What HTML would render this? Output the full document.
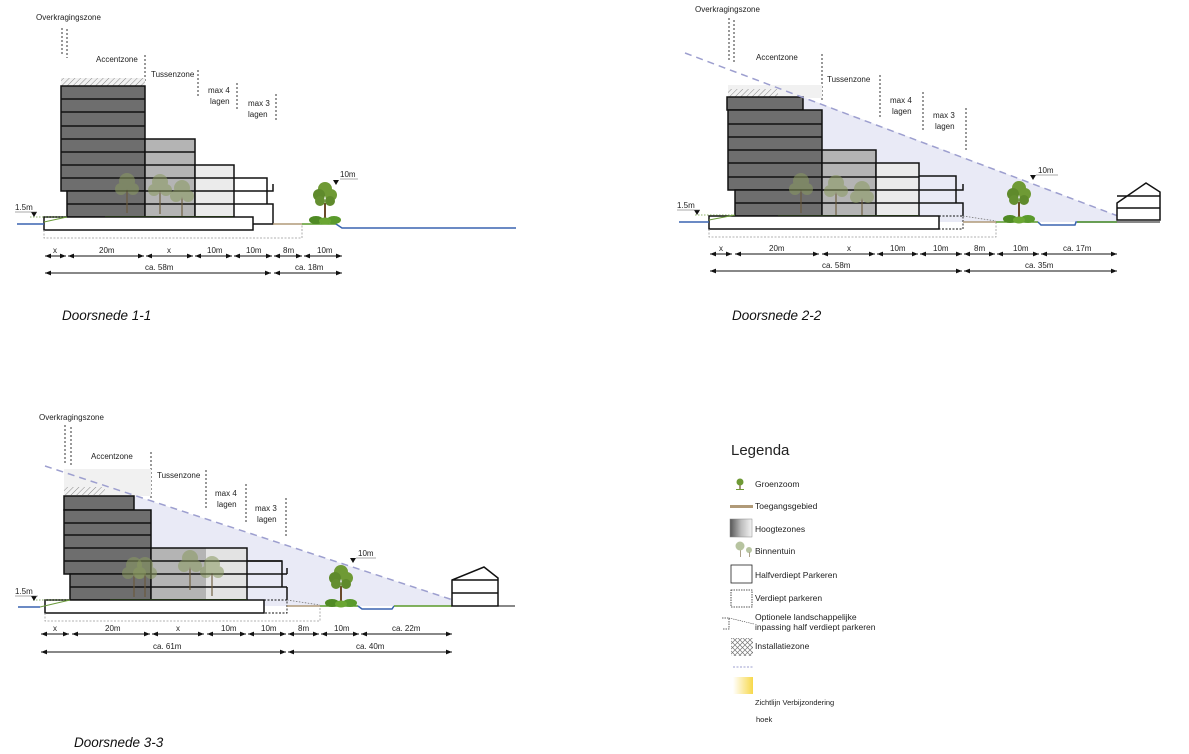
<!DOCTYPE html>
<html><head><meta charset="utf-8"><style>
html,body{margin:0;padding:0;background:#fff;}
svg{display:block;}
text{font-family:"Liberation Sans","DejaVu Sans",sans-serif;font-size:8px;fill:#222;}
.it{font-style:italic;font-size:13.5px;fill:#111;}
.lg{font-size:8.5px;}
</style></head><body>
<svg width="1189" height="754" viewBox="0 0 1189 754" xmlns="http://www.w3.org/2000/svg">
<defs>
<pattern id="hatch" width="4" height="4" patternUnits="userSpaceOnUse" patternTransform="rotate(45)">
<rect width="4" height="4" fill="#f2f2f2"/><line x1="0" y1="0" x2="0" y2="4" stroke="#888" stroke-width="1"/></pattern>
<pattern id="cross" width="5" height="5" patternUnits="userSpaceOnUse">
<rect width="5" height="5" fill="#fff"/><path d="M0 0L5 5M5 0L0 5" stroke="#777" stroke-width="0.7"/></pattern>
<marker id="ar" viewBox="0 0 10 10" refX="10" refY="5" markerWidth="6" markerHeight="6" orient="auto-start-reverse"><path d="M0 1L10 5L0 9z" fill="#111"/></marker>
<linearGradient id="hz" x1="0" x2="1"><stop offset="0" stop-color="#555"/><stop offset="0.5" stop-color="#bbb"/><stop offset="1" stop-color="#f4f4f4"/></linearGradient>
<linearGradient id="yel" x1="0" x2="1"><stop offset="0" stop-color="#fff"/><stop offset="1" stop-color="#f7d84a"/></linearGradient>
<g id="tree"><rect x="-1" y="-16" width="2" height="18" fill="#6b4a2a"/><circle cx="0" cy="-30" r="7" fill="#6f9a35"/><circle cx="-6" cy="-24" r="6" fill="#5f8a2c"/><circle cx="6" cy="-24" r="6" fill="#6f9a35"/><circle cx="-5" cy="-18" r="5" fill="#648f30"/><circle cx="5" cy="-18" r="5" fill="#5f8a2c"/><ellipse cx="-9" cy="1" rx="7" ry="4" fill="#4f8a24"/><ellipse cx="9" cy="1" rx="7" ry="4" fill="#5a9a2c"/><ellipse cx="0" cy="2" rx="6" ry="3.5" fill="#6aa632"/></g>
<g id="btree" opacity="0.55"><rect x="-1" y="-12" width="2" height="26" fill="#6b5a3a"/><circle cx="0" cy="-18" r="8" fill="#8a9a60"/><circle cx="-6" cy="-10" r="6" fill="#8a9a60"/><circle cx="6" cy="-10" r="6" fill="#8a9a60"/></g>
</defs>

<!-- ============ SECTION 1 ============ -->
<g stroke-linecap="butt">
<text x="36" y="20">Overkragingszone</text>
<g stroke="#333" stroke-width="1" stroke-dasharray="2,2"><line x1="62" y1="28" x2="62" y2="55"/><line x1="67" y1="29" x2="67" y2="58"/><line x1="145" y1="55" x2="145" y2="82"/><line x1="198" y1="70" x2="198" y2="98"/><line x1="237" y1="83" x2="237" y2="110"/><line x1="276" y1="94" x2="276" y2="122"/></g>
<text x="96" y="62">Accentzone</text>
<text x="151" y="77">Tussenzone</text>
<text x="208" y="93">max 4</text><text x="210" y="104">lagen</text>
<text x="248" y="106">max 3</text><text x="248" y="117">lagen</text>
<rect x="61" y="78" width="84" height="8" fill="url(#hatch)"/>
<rect x="61" y="86" width="84" height="105" fill="#6e6e6e" stroke="#111" stroke-width="1.5"/>
<rect x="67" y="191" width="78" height="26" fill="#6e6e6e" stroke="#111" stroke-width="1.5"/>
<g stroke="#111" stroke-width="1.5"><line x1="61" y1="99" x2="145" y2="99"/><line x1="61" y1="112" x2="145" y2="112"/><line x1="61" y1="126" x2="145" y2="126"/><line x1="61" y1="139" x2="145" y2="139"/><line x1="61" y1="152" x2="145" y2="152"/><line x1="61" y1="165" x2="145" y2="165"/><line x1="61" y1="178" x2="145" y2="178"/><line x1="67" y1="204" x2="145" y2="204"/></g>
<rect x="145" y="139" width="50" height="78" fill="#b4b4b4" stroke="#111" stroke-width="1.5"/>
<g stroke="#111" stroke-width="1.5"><line x1="145" y1="152" x2="195" y2="152"/><line x1="145" y1="165" x2="195" y2="165"/><line x1="145" y1="178" x2="195" y2="178"/><line x1="145" y1="191" x2="195" y2="191"/><line x1="145" y1="204" x2="195" y2="204"/></g>
<rect x="195" y="165" width="39" height="52" fill="#ebebeb" stroke="#111" stroke-width="1.5"/>
<g stroke="#111" stroke-width="1.5" fill="none"><line x1="195" y1="178" x2="234" y2="178"/><line x1="195" y1="191" x2="234" y2="191"/><line x1="195" y1="204" x2="234" y2="204"/>
<polyline points="234,178 267,178 267,204"/><polyline points="234,191 273,191 273,184"/><polyline points="234,204 273,204 273,224 253,224"/></g>
<use href="#btree" x="127" y="199"/><use href="#btree" x="160" y="200"/><use href="#btree" x="182" y="206"/>
<line x1="105" y1="217" x2="233" y2="217" stroke="#5a9a2a" stroke-width="2"/>
<rect x="44" y="217" width="209" height="13" fill="#fff" stroke="#111" stroke-width="1.5"/>
<polyline points="44,230 44,238 302,238 302,224" fill="none" stroke="#999" stroke-width="0.8" stroke-dasharray="2,1.5"/>
<line x1="17" y1="224" x2="44" y2="224" stroke="#3a64b0" stroke-width="1.5"/>
<line x1="30" y1="217" x2="65" y2="217" stroke="#6a9a3a" stroke-width="0.8" stroke-dasharray="1.5,1.5"/>
<line x1="44" y1="222" x2="67" y2="217" stroke="#6a9a3a" stroke-width="1"/>
<line x1="273" y1="224" x2="302" y2="224" stroke="#b09a78" stroke-width="1.5"/>
<line x1="302" y1="224" x2="336" y2="224" stroke="#5a9a2a" stroke-width="1.5"/>
<polyline points="336,224 342,228 516,228" fill="none" stroke="#3a64b0" stroke-width="1.5"/>
<use href="#tree" x="325" y="219"/>
<path d="M333 180h6l-3 5z" fill="#111"/><text x="340" y="177">10m</text><line x1="340" y1="179" x2="358" y2="179" stroke="#555" stroke-width="0.6"/>
<text x="15" y="210">1.5m</text><path d="M31 212h6l-3 5z" fill="#111"/><line x1="15" y1="212" x2="37" y2="212" stroke="#555" stroke-width="0.6"/>
<g stroke="#111" stroke-width="1" marker-start="url(#ar)" marker-end="url(#ar)">
<line x1="45" y1="256" x2="66" y2="256"/><line x1="68" y1="256" x2="144" y2="256"/><line x1="146" y1="256" x2="193" y2="256"/><line x1="195" y1="256" x2="232" y2="256"/><line x1="234" y1="256" x2="272" y2="256"/><line x1="274" y1="256" x2="302" y2="256"/><line x1="304" y1="256" x2="342" y2="256"/>
<line x1="45" y1="273" x2="271" y2="273"/><line x1="274" y1="273" x2="342" y2="273"/></g>
<text x="53" y="253">x</text><text x="99" y="253">20m</text><text x="167" y="253">x</text><text x="207" y="253">10m</text><text x="246" y="253">10m</text><text x="283" y="253">8m</text><text x="317" y="253">10m</text>
<text x="145" y="270">ca. 58m</text><text x="295" y="270">ca. 18m</text>
<text class="it" x="62" y="320">Doorsnede 1-1</text>
</g>

<!-- ============ SECTION 2 ============ -->
<g>
<polygon points="790,92 1118,216 1118,222 790,222" fill="#e9eaf6"/>
<text x="695" y="12">Overkragingszone</text>
<g stroke="#333" stroke-width="1" stroke-dasharray="2,2"><line x1="729" y1="18" x2="729" y2="62"/><line x1="734" y1="20" x2="734" y2="64"/><line x1="822" y1="54" x2="822" y2="100"/><line x1="880" y1="75" x2="880" y2="117"/><line x1="923" y1="92" x2="923" y2="132"/><line x1="966" y1="108" x2="966" y2="152"/></g>
<text x="756" y="60">Accentzone</text>
<text x="827" y="82">Tussenzone</text>
<text x="890" y="103">max 4</text><text x="892" y="114">lagen</text>
<text x="933" y="118">max 3</text><text x="935" y="129">lagen</text>
<rect x="728" y="85" width="94" height="13" fill="#f1f1f1"/>
<rect x="728" y="89" width="50" height="8" fill="url(#hatch)"/>
<rect x="727" y="97" width="76" height="13" fill="#6e6e6e" stroke="#111" stroke-width="1.5"/>
<rect x="728" y="110" width="94" height="80" fill="#6e6e6e" stroke="#111" stroke-width="1.5"/>
<rect x="735" y="190" width="87" height="26" fill="#6e6e6e" stroke="#111" stroke-width="1.5"/>
<g stroke="#111" stroke-width="1.5"><line x1="728" y1="124" x2="822" y2="124"/><line x1="728" y1="137" x2="822" y2="137"/><line x1="728" y1="150" x2="822" y2="150"/><line x1="728" y1="163" x2="822" y2="163"/><line x1="728" y1="177" x2="822" y2="177"/><line x1="735" y1="203" x2="822" y2="203"/></g>
<rect x="822" y="150" width="54" height="66" fill="#b4b4b4" stroke="#111" stroke-width="1.5"/>
<g stroke="#111" stroke-width="1.5"><line x1="822" y1="163" x2="876" y2="163"/><line x1="822" y1="177" x2="876" y2="177"/><line x1="822" y1="190" x2="876" y2="190"/><line x1="822" y1="203" x2="876" y2="203"/></g>
<rect x="876" y="163" width="43" height="53" fill="#ebebeb" stroke="#111" stroke-width="1.5"/>
<g stroke="#111" stroke-width="1.5" fill="none"><line x1="876" y1="177" x2="919" y2="177"/><line x1="876" y1="190" x2="919" y2="190"/><line x1="876" y1="203" x2="919" y2="203"/>
<polyline points="919,176 956,176 956,203"/><polyline points="919,190 963,190 963,184"/><polyline points="919,203 963,203 963,216"/></g>
<use href="#btree" x="801" y="199"/><use href="#btree" x="836" y="201"/><use href="#btree" x="862" y="207"/>
<line x1="778" y1="216" x2="919" y2="216" stroke="#5a9a2a" stroke-width="2"/>
<rect x="709" y="216" width="230" height="13" fill="#fff" stroke="#111" stroke-width="1.5"/>
<rect x="939" y="216" width="24" height="13" fill="none" stroke="#111" stroke-width="0.9" stroke-dasharray="2,1.5"/>
<polyline points="709,229 709,237 996,237 996,222" fill="none" stroke="#999" stroke-width="0.8" stroke-dasharray="2,1.5"/>
<line x1="679" y1="222" x2="709" y2="222" stroke="#3a64b0" stroke-width="1.5"/>
<line x1="695" y1="215" x2="735" y2="215" stroke="#6a9a3a" stroke-width="0.8" stroke-dasharray="1.5,1.5"/>
<line x1="709" y1="220" x2="735" y2="215" stroke="#6a9a3a" stroke-width="1"/>
<line x1="963" y1="216" x2="996" y2="221" stroke="#777" stroke-width="0.8" stroke-dasharray="1.5,1.5"/>
<line x1="963" y1="222" x2="996" y2="222" stroke="#b09a78" stroke-width="1.5"/>
<line x1="996" y1="222" x2="1038" y2="222" stroke="#5a9a2a" stroke-width="1.5"/>
<polyline points="1038,222 1041,225 1075,225 1076,222 1117,222" fill="none" stroke="#3a64b0" stroke-width="1.5"/>
<line x1="1077" y1="222" x2="1117" y2="222" stroke="#5a9a2a" stroke-width="1.5"/>
<use href="#tree" x="1019" y="218"/>
<line x1="685" y1="53" x2="1118" y2="216" stroke="#9d9fcf" stroke-width="1.5" stroke-dasharray="7,5"/>
<g fill="#fff" stroke="#111" stroke-width="1.5"><polygon points="1117,203 1146,183 1160,192 1160,220 1117,220"/><line x1="1117" y1="208" x2="1160" y2="208"/><line x1="1117" y1="196" x2="1160" y2="196"/></g>
<line x1="1160" y1="222" x2="1117" y2="222" stroke="#111" stroke-width="1"/>
<path d="M1030 175h6l-3 5z" fill="#111"/><text x="1038" y="173">10m</text><line x1="1036" y1="175" x2="1058" y2="175" stroke="#555" stroke-width="0.6"/>
<text x="677" y="208">1.5m</text><path d="M694 210h6l-3 5z" fill="#111"/><line x1="677" y1="210" x2="700" y2="210" stroke="#555" stroke-width="0.6"/>
<g stroke="#111" stroke-width="1" marker-start="url(#ar)" marker-end="url(#ar)">
<line x1="710" y1="254" x2="732" y2="254"/><line x1="735" y1="254" x2="819" y2="254"/><line x1="822" y1="254" x2="875" y2="254"/><line x1="877" y1="254" x2="918" y2="254"/><line x1="920" y1="254" x2="962" y2="254"/><line x1="964" y1="254" x2="995" y2="254"/><line x1="997" y1="254" x2="1039" y2="254"/><line x1="1041" y1="254" x2="1117" y2="254"/>
<line x1="710" y1="271" x2="962" y2="271"/><line x1="964" y1="271" x2="1117" y2="271"/></g>
<text x="719" y="251">x</text><text x="769" y="251">20m</text><text x="847" y="251">x</text><text x="890" y="251">10m</text><text x="933" y="251">10m</text><text x="974" y="251">8m</text><text x="1013" y="251">10m</text><text x="1063" y="251">ca. 17m</text>
<text x="822" y="268">ca. 58m</text><text x="1025" y="268">ca. 35m</text>
<text class="it" x="732" y="320">Doorsnede 2-2</text>
</g>

<!-- ============ SECTION 3 ============ -->
<g>
<polygon points="120,491 453,600 453,606 120,606" fill="#e9eaf6"/>
<text x="39" y="420">Overkragingszone</text>
<g stroke="#333" stroke-width="1" stroke-dasharray="2,2"><line x1="65" y1="425" x2="65" y2="465"/><line x1="71" y1="427" x2="71" y2="467"/><line x1="151" y1="452" x2="151" y2="500"/><line x1="206" y1="470" x2="206" y2="510"/><line x1="246" y1="484" x2="246" y2="523"/><line x1="286" y1="498" x2="286" y2="538"/></g>
<text x="91" y="459">Accentzone</text>
<text x="157" y="478">Tussenzone</text>
<text x="215" y="496">max 4</text><text x="217" y="507">lagen</text>
<text x="255" y="511">max 3</text><text x="257" y="522">lagen</text>
<rect x="64" y="469" width="87" height="27" fill="#f1f1f1"/>
<rect x="64" y="487" width="41" height="8" fill="url(#hatch)"/>
<rect x="64" y="496" width="70" height="14" fill="#6e6e6e" stroke="#111" stroke-width="1.5"/>
<rect x="64" y="510" width="87" height="64" fill="#6e6e6e" stroke="#111" stroke-width="1.5"/>
<rect x="70" y="574" width="81" height="26" fill="#6e6e6e" stroke="#111" stroke-width="1.5"/>
<g stroke="#111" stroke-width="1.5"><line x1="64" y1="523" x2="151" y2="523"/><line x1="64" y1="535" x2="151" y2="535"/><line x1="64" y1="548" x2="151" y2="548"/><line x1="64" y1="561" x2="151" y2="561"/><line x1="70" y1="587" x2="151" y2="587"/></g>
<rect x="151" y="548" width="96" height="52" fill="#b4b4b4"/>
<rect x="206" y="548" width="41" height="52" fill="#e3e3e3"/>
<rect x="151" y="548" width="96" height="52" fill="none" stroke="#111" stroke-width="1.5"/>
<g stroke="#111" stroke-width="1.5" fill="none"><line x1="151" y1="561" x2="282" y2="561"/><line x1="151" y1="574" x2="287" y2="574"/><line x1="151" y1="587" x2="287" y2="587"/>
<polyline points="247,561 282,561 282,574"/><line x1="287" y1="568" x2="287" y2="574"/><polyline points="282,574 282,587"/><line x1="287" y1="587" x2="287" y2="600"/></g>
<use href="#btree" x="134" y="583"/><use href="#btree" x="145" y="583"/><use href="#btree" x="190" y="576"/><use href="#btree" x="212" y="582"/>
<line x1="110" y1="600" x2="247" y2="600" stroke="#5a9a2a" stroke-width="2"/>
<rect x="45" y="600" width="219" height="13" fill="#fff" stroke="#111" stroke-width="1.5"/>
<rect x="264" y="600" width="23" height="13" fill="none" stroke="#111" stroke-width="0.9" stroke-dasharray="2,1.5"/>
<polyline points="45,613 45,621 320,621 320,606" fill="none" stroke="#999" stroke-width="0.8" stroke-dasharray="2,1.5"/>
<line x1="18" y1="607" x2="40" y2="607" stroke="#3a64b0" stroke-width="1.5"/>
<line x1="33" y1="600" x2="70" y2="600" stroke="#6a9a3a" stroke-width="0.8" stroke-dasharray="1.5,1.5"/>
<line x1="40" y1="607" x2="70" y2="600" stroke="#6a9a3a" stroke-width="1"/>
<line x1="287" y1="600" x2="320" y2="605" stroke="#777" stroke-width="0.8" stroke-dasharray="1.5,1.5"/>
<line x1="287" y1="606" x2="320" y2="606" stroke="#b09a78" stroke-width="1.5"/>
<line x1="320" y1="606" x2="358" y2="606" stroke="#5a9a2a" stroke-width="1.5"/>
<polyline points="358,606 362,609 392,609 394,606" fill="none" stroke="#3a64b0" stroke-width="1.5"/>
<line x1="394" y1="606" x2="452" y2="606" stroke="#5a9a2a" stroke-width="1.5"/>
<line x1="452" y1="606" x2="515" y2="606" stroke="#111" stroke-width="1"/>
<use href="#tree" x="341" y="602"/>
<line x1="45" y1="466" x2="453" y2="600" stroke="#9d9fcf" stroke-width="1.5" stroke-dasharray="7,5"/>
<g fill="#fff" stroke="#111" stroke-width="1.5"><polygon points="452,588 452,580 484,567 498,578 498,606 452,606"/><line x1="452" y1="593" x2="498" y2="593"/><line x1="452" y1="580" x2="498" y2="580"/></g>
<path d="M350 558h6l-3 5z" fill="#111"/><text x="358" y="556">10m</text><line x1="356" y1="558" x2="376" y2="558" stroke="#555" stroke-width="0.6"/>
<text x="15" y="594">1.5m</text><path d="M31 596h6l-3 5z" fill="#111"/><line x1="15" y1="596" x2="38" y2="596" stroke="#555" stroke-width="0.6"/>
<g stroke="#111" stroke-width="1" marker-start="url(#ar)" marker-end="url(#ar)">
<line x1="41" y1="634" x2="69" y2="634"/><line x1="72" y1="634" x2="150" y2="634"/><line x1="152" y1="634" x2="204" y2="634"/><line x1="207" y1="634" x2="246" y2="634"/><line x1="248" y1="634" x2="286" y2="634"/><line x1="288" y1="634" x2="319" y2="634"/><line x1="321" y1="634" x2="359" y2="634"/><line x1="361" y1="634" x2="452" y2="634"/>
<line x1="41" y1="652" x2="286" y2="652"/><line x1="288" y1="652" x2="452" y2="652"/></g>
<text x="53" y="631">x</text><text x="105" y="631">20m</text><text x="176" y="631">x</text><text x="221" y="631">10m</text><text x="261" y="631">10m</text><text x="298" y="631">8m</text><text x="334" y="631">10m</text><text x="392" y="631">ca. 22m</text>
<text x="153" y="649">ca. 61m</text><text x="356" y="649">ca. 40m</text>
<text class="it" x="74" y="747">Doorsnede 3-3</text>
</g>

<!-- ============ LEGEND ============ -->
<g>
<text x="731" y="455" style="font-size:15px">Legenda</text>
<g transform="translate(740,487)"><rect x="-0.6" y="-3" width="1.2" height="6" fill="#6b4a2a"/><circle cx="0" cy="-5" r="3.5" fill="#6f9a35"/><rect x="-4" y="2" width="8" height="1" fill="#6f9a35"/></g>
<text class="lg" x="755" y="487">Groenzoom</text>
<rect x="730" y="505" width="23" height="3" fill="#b09a78"/>
<text class="lg" x="755" y="509">Toegangsgebied</text>
<rect x="730" y="519" width="22" height="18" fill="url(#hz)" stroke="#888" stroke-width="0.5"/>
<text class="lg" x="755" y="532">Hoogtezones</text>
<g opacity="0.7"><rect x="740" y="548" width="1" height="9" fill="#8a7a5a"/><circle cx="740" cy="546" r="4.5" fill="#9aac78"/><circle cx="749" cy="550" r="3" fill="#9aac78"/><rect x="749" y="552" width="1" height="5" fill="#8a7a5a"/></g>
<text class="lg" x="755" y="554">Binnentuin</text>
<rect x="731" y="565" width="21" height="18" fill="#fff" stroke="#222" stroke-width="0.8"/>
<text class="lg" x="755" y="578">Halfverdiept Parkeren</text>
<rect x="731" y="590" width="21" height="17" fill="#fff" stroke="#222" stroke-width="0.8" stroke-dasharray="1.5,1"/>
<text class="lg" x="755" y="601">Verdiept parkeren</text>
<polyline points="722,618 729,618 729,629 722,629" fill="none" stroke="#333" stroke-width="0.8" stroke-dasharray="1.5,1"/>
<line x1="729" y1="618" x2="754" y2="624" stroke="#333" stroke-width="0.6" stroke-dasharray="1.2,1"/>
<text class="lg" x="755" y="620">Optionele landschappelijke</text>
<text class="lg" x="755" y="630">inpassing half verdiept parkeren</text>
<rect x="731" y="638" width="22" height="18" fill="url(#cross)"/>
<text class="lg" x="755" y="649">Installatiezone</text>
<line x1="733" y1="667" x2="753" y2="667" stroke="#9d9fcf" stroke-width="1" stroke-dasharray="2,1.5"/>
<rect x="733" y="677" width="20" height="17" fill="url(#yel)"/>
<text x="755" y="705" style="font-size:7.5px">Zichtlijn Verbijzondering</text>
<text x="756" y="722" style="font-size:7.5px">hoek</text>
</g>
</svg>
</body></html>
